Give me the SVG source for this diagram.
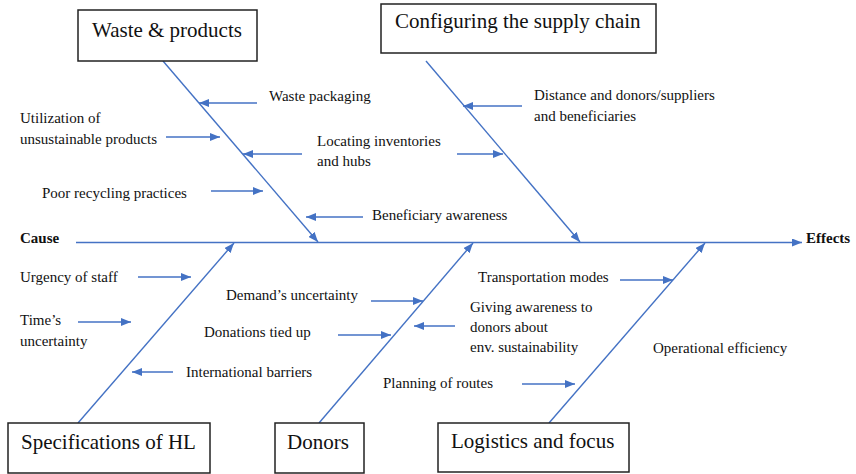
<svg xmlns="http://www.w3.org/2000/svg" width="856" height="474" viewBox="0 0 856 474">
<defs>
<marker id="ah" viewBox="0 0 10 8" refX="10" refY="4" markerWidth="10" markerHeight="8" markerUnits="userSpaceOnUse" orient="auto">
<path d="M0,0 L10,4 L0,8 z" fill="#4472C4"/>
</marker>
</defs>
<style>
.box{fill:#fff;stroke:#222;stroke-width:1.5}
.ln{stroke:#4472C4;stroke-width:1.4;fill:none;marker-end:url(#ah)}
</style>
<rect width="856" height="474" fill="#fff"/>
<g id="connectors">
<line class="ln" x1="76" y1="242.5" x2="802" y2="242.5"/>
<line class="ln" x1="163" y1="61" x2="318" y2="242"/>
<line class="ln" x1="426" y1="61" x2="580" y2="242"/>
<line class="ln" x1="78" y1="423" x2="234" y2="243"/>
<line class="ln" x1="319" y1="423" x2="473" y2="243"/>
<line class="ln" x1="549" y1="423" x2="705" y2="243"/>
<line class="ln" x1="257" y1="103" x2="199" y2="103"/>
<line class="ln" x1="166" y1="137" x2="220" y2="137"/>
<line class="ln" x1="302" y1="154" x2="243" y2="154"/>
<line class="ln" x1="457" y1="154" x2="503" y2="154"/>
<line class="ln" x1="211" y1="191" x2="263" y2="191"/>
<line class="ln" x1="363" y1="217" x2="306" y2="217"/>
<line class="ln" x1="522" y1="106" x2="463" y2="106"/>
<line class="ln" x1="138" y1="277" x2="191" y2="277"/>
<line class="ln" x1="78" y1="322" x2="131" y2="322"/>
<line class="ln" x1="173" y1="372" x2="132" y2="372"/>
<line class="ln" x1="371" y1="301" x2="423" y2="301"/>
<line class="ln" x1="338" y1="335" x2="391" y2="335"/>
<line class="ln" x1="455" y1="326" x2="414" y2="326"/>
<line class="ln" x1="522" y1="384" x2="575" y2="384"/>
<line class="ln" x1="620" y1="280" x2="673" y2="280"/>
</g>
<g id="waste">
<rect class="box" x="78" y="10" width="179" height="51"/>
<text x="92" y="37" font-family="serif" font-size="21" fill="#111">Waste &amp; products</text>
</g>
<g id="configuring">
<rect class="box" x="381" y="4" width="275" height="49"/>
<text x="395" y="28" font-family="serif" font-size="21" fill="#111">Configuring the supply chain</text>
</g>
<g id="specifications">
<rect class="box" x="8" y="423" width="202" height="50"/>
<text x="21" y="449" font-family="serif" font-size="21" fill="#111">Specifications of HL</text>
</g>
<g id="donors">
<rect class="box" x="275" y="423" width="89" height="50"/>
<text x="287" y="449" font-family="serif" font-size="21" fill="#111">Donors</text>
</g>
<g id="logistics">
<rect class="box" x="438" y="423" width="191" height="49"/>
<text x="451" y="448" font-family="serif" font-size="21" fill="#111">Logistics and focus</text>
</g>
<g id="labels" fill="#111">
<text x="20" y="243" font-family="serif" font-size="15" font-weight="bold">Cause</text>
<text x="806" y="243" font-family="serif" font-size="15" font-weight="bold">Effects</text>
<text x="269" y="101" font-family="serif" font-size="15">Waste packaging</text>
<text x="20" y="123" font-family="serif" font-size="15">Utilization of</text>
<text x="20" y="144" font-family="serif" font-size="15">unsustainable products</text>
<text x="317" y="146" font-family="serif" font-size="15">Locating inventories</text>
<text x="317" y="166" font-family="serif" font-size="15">and hubs</text>
<text x="42" y="198" font-family="serif" font-size="15">Poor recycling practices</text>
<text x="372" y="220" font-family="serif" font-size="15">Beneficiary awareness</text>
<text x="534" y="100" font-family="serif" font-size="15">Distance and donors/suppliers</text>
<text x="534" y="121" font-family="serif" font-size="15">and beneficiaries</text>
<text x="20" y="282" font-family="serif" font-size="15">Urgency of staff</text>
<text x="20" y="325" font-family="serif" font-size="15">Time&#8217;s</text>
<text x="20" y="346" font-family="serif" font-size="15">uncertainty</text>
<text x="186" y="377" font-family="serif" font-size="15">International barriers</text>
<text x="226" y="300" font-family="serif" font-size="15">Demand&#8217;s uncertainty</text>
<text x="204" y="337" font-family="serif" font-size="15">Donations tied up</text>
<text x="470" y="312" font-family="serif" font-size="15">Giving awareness to</text>
<text x="470" y="332" font-family="serif" font-size="15">donors about</text>
<text x="470" y="352" font-family="serif" font-size="15">env. sustainability</text>
<text x="383" y="388" font-family="serif" font-size="15">Planning of routes</text>
<text x="478" y="282" font-family="serif" font-size="15">Transportation modes</text>
<text x="653" y="353" font-family="serif" font-size="15">Operational efficiency</text>
</g>
</svg>
